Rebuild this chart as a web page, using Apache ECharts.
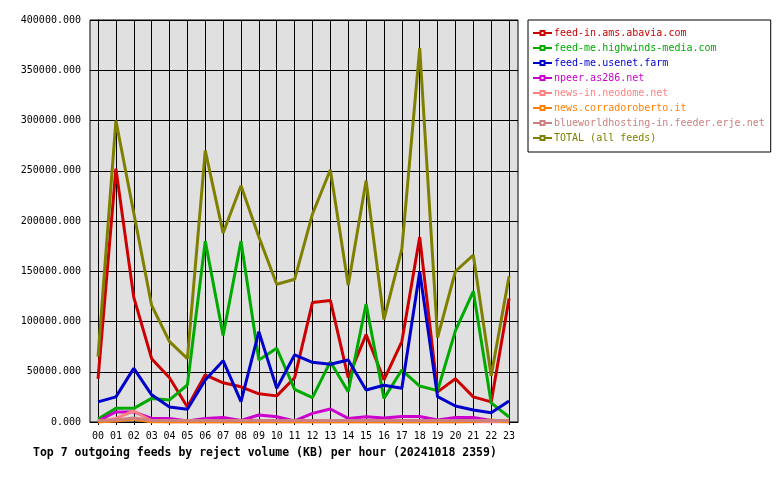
<!DOCTYPE html>
<html>
<head>
<meta charset="utf-8">
<script src="https://cdn.jsdelivr.net/npm/echarts@6/dist/echarts.min.js"></script>
<style>
html,body{margin:0;padding:0;background:#fff;}
#chart{width:780px;height:480px;}
</style>
</head>
<body>
<div id="chart"></div>
<script>
const hours = ["00","01","02","03","04","05","06","07","08","09","10","11","12","13","14","15","16","17","18","19","20","21","22","23"];
const seriesNames = ["feed-in.ams.abavia.com","feed-me.highwinds-media.com","feed-me.usenet.farm","npeer.as286.net","news-in.neodome.net","news.corradoroberto.it","blueworldhosting-in.feeder.erje.net","TOTAL (all feeds)"];
const abavia = [43000,252000,124000,63000,44000,15000,47000,39000,35000,28000,26000,44000,119000,121000,44000,87000,42000,80000,184000,30000,43000,25000,20000,123000];
const highwinds = [3000,13600,13600,23500,22000,36800,180000,86000,180000,61700,73300,32500,24200,60000,30200,117400,23500,51700,35800,31200,90900,130000,19000,5000];
const usenet = [20000,25000,53400,27000,15000,12600,41800,61000,20200,89900,33500,66700,59400,57400,61700,31800,36500,33500,149600,25200,15900,11900,9300,20900];
const npeer = [1000,10000,10000,3600,3600,1000,3600,4600,1500,7000,5300,1000,8600,12900,3600,5300,4000,5500,5500,2000,4500,4500,1500,500];
const neodome = [0,3500,11000,1000,0,0,0,0,0,0,0,0,0,0,0,0,0,0,0,0,0,0,0,0];
const corrado = [0,1000,3000,0,0,0,0,0,0,0,0,0,0,0,0,0,0,0,0,0,0,500,2000,0];
const blueworld = [1500,2000,4000,1500,1500,1500,1500,1500,1500,1500,1500,1500,1500,1500,1500,1500,1500,1500,1500,1500,1500,1500,1500,1500];
const total = [65000,300000,208000,116000,80000,63000,270000,188000,235000,184000,137000,142000,207000,251000,136000,240000,102000,172000,372000,84000,150000,166000,46000,145000];
const yTicks = [0,50000,100000,150000,200000,250000,300000,350000,400000];

const colors = ["#cc0000","#00aa00","#0000cc","#cc00cc","#ff8080","#ff8000","#cc8080","#808000"];
const values = [abavia, highwinds, usenet, npeer, neodome, corrado, blueworld, total];
const FONT = "'DejaVu Sans Mono', monospace";

const chart = echarts.init(document.getElementById('chart'), null, {renderer:'canvas'});
const series = seriesNames.map((n, k) => ({
  name: n,
  type: 'line',
  data: values[k].map((v, i) => [i, v]),
  showSymbol: false,
  symbol: 'emptyRect',
  symbolSize: 4,
  lineStyle: {width: 3, color: colors[k]},
  itemStyle: {color: colors[k]},
  animation: false,
  z: 2 + k
}));
const hourIdx = hours.map((h, i) => i);

chart.setOption({
  backgroundColor: '#ffffff',
  animation: false,
  title: {
    text: 'Top 7 outgoing feeds by reject volume (KB) per hour (20241018 2359)',
    left: 33, top: 447,
    padding: 0,
    textStyle: {fontFamily: FONT, fontSize: 11.5, fontWeight: 'bold', color: '#000'}
  },
  legend: {
    orient: 'vertical',
    left: 528, top: 20,
    padding: [8, 6, 9, 4],
    itemWidth: 19, itemHeight: 5, itemGap: 5,
    backgroundColor: '#ffffff',
    borderColor: '#000', borderWidth: 1, borderRadius: 0,
    data: seriesNames.map((n, k) => ({name: n, textStyle: {color: colors[k]}})),
    textStyle: {fontFamily: FONT, fontSize: 10, padding: [0,0,0,-3]},
    selectedMode: false
  },
  grid: {
    left: 90, right: 262, top: 20, bottom: 58,
    show: true, backgroundColor: '#e0e0e0', borderColor: '#000', borderWidth: 1,
    containLabel: false
  },
  xAxis: {
    type: 'value', min: -0.45, max: 23.5,
    axisLine: {show: true, lineStyle: {color: '#000', width: 1}},
    axisTick: {show: true, length: 3, customValues: hourIdx, lineStyle: {color: '#000'}},
    axisLabel: {customValues: hourIdx, formatter: v => hours[v], fontFamily: FONT, fontSize: 10, color: '#000', margin: 9},
    splitLine: {show: true, lineStyle: {color: '#000', width: 1}}
  },
  yAxis: {
    type: 'value', min: 0, max: 400000, interval: 50000,
    axisLine: {show: true, lineStyle: {color: '#000', width: 1}},
    axisTick: {show: true, length: 4, lineStyle: {color: '#000'}},
    axisLabel: {formatter: v => v.toFixed(3), fontFamily: FONT, fontSize: 10, color: '#000', margin: 9},
    splitLine: {show: true, lineStyle: {color: '#000', width: 1}}
  },
  series: series
});
</script>
</body>
</html>
